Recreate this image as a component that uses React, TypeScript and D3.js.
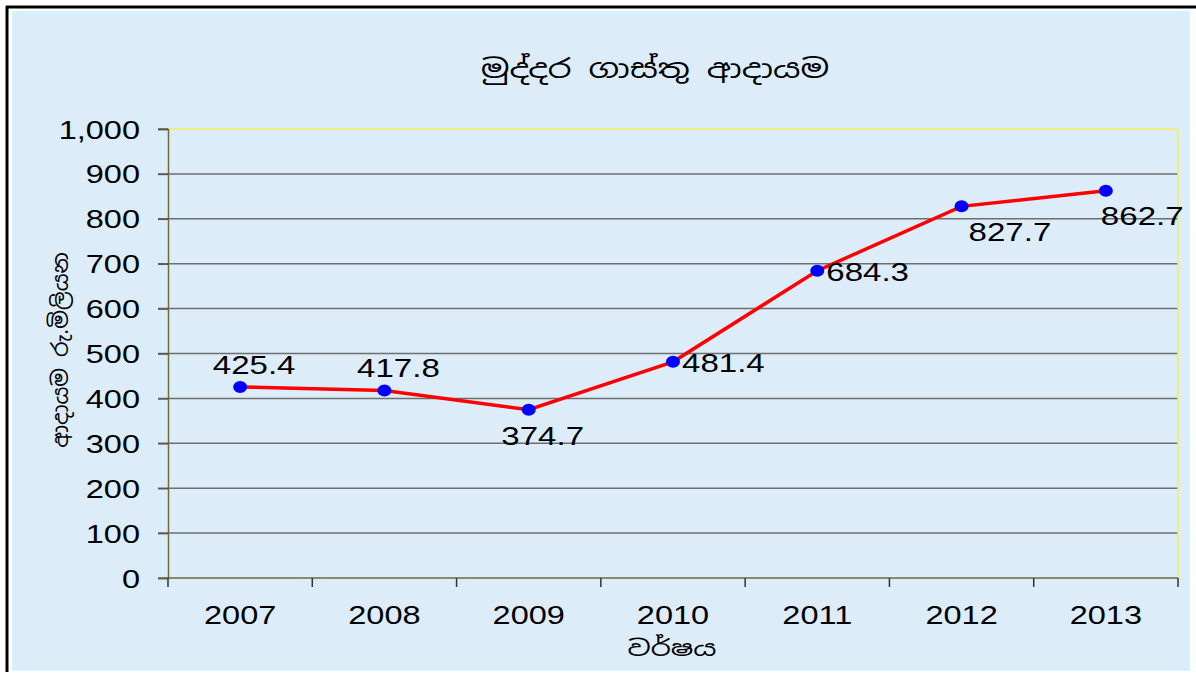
import React, { useEffect, useRef } from 'react'
import * as d3 from 'd3'

const years = ['2007', '2008', '2009', '2010', '2011', '2012', '2013']
const revenue = [425.4, 417.8, 374.7, 481.4, 684.3, 827.7, 862.7]
const yTicks = [0, 100, 200, 300, 400, 500, 600, 700, 800, 900, 1000]
// where each value label sits relative to its point
const labelPlace = ['above', 'above', 'below', 'right', 'right', 'belowRight', 'belowEdge']

const title = 'මුද්දර ගාස්තු ආදායම'
const yTitle = 'ආදායම රු.මිලියන'
const xTitle = 'වර්ෂය'

const W = 1196
const H = 675
const SX = 1.3 // the source picture is stretched sideways

const App: React.FC = () => {
  const ref = useRef<SVGSVGElement>(null)

  useEffect(() => {
    const svg = d3.select(ref.current)
    svg.selectAll('*').remove()

    const left = 168
    const right = 1178
    const top = 129
    const bottom = 578
    const font = 'Liberation Sans, Arial, sans-serif'
    const sinhala = 'Iskoola Pota, Noto Sans Sinhala, sans-serif'

    /* frame + background */
    svg.append('rect').attr('x', 0).attr('y', 0).attr('width', W).attr('height', H).attr('fill', '#fff')
    svg
      .append('rect')
      .attr('x', 13)
      .attr('y', 12)
      .attr('width', 1176)
      .attr('height', 658)
      .attr('fill', '#dcecf9')
      .attr('stroke', '#c8f4fa')
      .attr('stroke-width', 1.5)
    svg.append('line').attr('x1', 7).attr('x2', 7).attr('y1', 6).attr('y2', 672).attr('stroke', '#000').attr('stroke-width', 3)
    svg.append('line').attr('x1', 6).attr('x2', W).attr('y1', 7).attr('y2', 7).attr('stroke', '#000').attr('stroke-width', 3)

    /* Scales */
    const x = d3.scaleBand().domain(years).range([left, right]).padding(0)
    const y = d3.scaleLinear().domain([0, 1000]).range([bottom, top])
    const cx = (d: string) => (x(d) as number) + x.bandwidth() / 2

    /* grid */
    svg
      .append('g')
      .selectAll('line')
      .data(yTicks.filter((t) => t > 0 && t < 1000))
      .enter()
      .append('line')
      .attr('x1', left - 10)
      .attr('x2', right)
      .attr('y1', (d) => y(d))
      .attr('y2', (d) => y(d))
      .attr('stroke', '#6e6e6e')
      .attr('stroke-width', 1.5)

    // plot border top/right (yellow)
    svg.append('line').attr('x1', left).attr('x2', right).attr('y1', y(1000)).attr('y2', y(1000)).attr('stroke', '#f2ee5a').attr('stroke-width', 1.5)
    svg.append('line').attr('x1', left - 10).attr('x2', left).attr('y1', y(1000)).attr('y2', y(1000)).attr('stroke', '#6e6e6e').attr('stroke-width', 1.5)
    svg.append('line').attr('x1', right).attr('x2', right).attr('y1', top).attr('y2', bottom).attr('stroke', '#f2ee5a').attr('stroke-width', 1.5)

    /* axes */
    const yAxis = d3
      .axisLeft(y)
      .tickValues(yTicks)
      .tickSize(10)
      .tickFormat((d: any) => d3.format(',')(d))
    const gy = svg.append('g').attr('transform', `translate(${left},0)`).call(yAxis)
    gy.select('.domain').attr('stroke', '#6b6b3a').attr('stroke-width', 1.5)
    gy.selectAll('.tick line').attr('stroke', '#555').attr('stroke-width', 1.5)
    gy.selectAll('.tick text')
      .attr('x', 0)
      .attr('transform', `translate(-28,0) scale(${SX},1)`)
      .attr('dy', '0.36em')
      .attr('fill', '#000')
      .style('font-family', font)
      .style('font-size', '25px')

    const gx = svg.append('g').attr('transform', `translate(0,${bottom})`)
    gx.append('line').attr('x1', left - 10).attr('x2', right).attr('y1', 0).attr('y2', 0).attr('stroke', '#6b6b3a').attr('stroke-width', 1.5)
    gx.selectAll('line.tk')
      .data(years.concat(['end']))
      .enter()
      .append('line')
      .attr('class', 'tk')
      .attr('x1', (d, i) => left + i * x.bandwidth())
      .attr('x2', (d, i) => left + i * x.bandwidth())
      .attr('y1', 0)
      .attr('y2', 9)
      .attr('stroke', '#333')
      .attr('stroke-width', 1.5)
    gx.selectAll('text')
      .data(years)
      .enter()
      .append('text')
      .attr('transform', (d) => `translate(${cx(d)},46) scale(${SX},1)`)
      .attr('text-anchor', 'middle')
      .style('font-family', font)
      .style('font-size', '25px')
      .text((d) => d)

    /* titles */
    svg
      .append('text')
      .attr('transform', `translate(655,78) scale(${SX},1)`)
      .attr('text-anchor', 'middle')
      .style('font-family', sinhala)
      .style('font-size', '26px')
      .text(title)
    svg
      .append('text')
      .attr('transform', `translate(68,350) rotate(-90)`)
      .attr('text-anchor', 'middle')
      .style('font-family', sinhala)
      .style('font-size', '22px')
      .text(yTitle)
    svg
      .append('text')
      .attr('transform', `translate(672,656) scale(${SX},1)`)
      .attr('text-anchor', 'middle')
      .style('font-family', sinhala)
      .style('font-size', '22px')
      .text(xTitle)

    /* line */
    const line = d3
      .line<number>()
      .x((d, i) => cx(years[i]))
      .y((d) => y(d))
    svg.append('path').attr('d', line(revenue)).attr('fill', 'none').attr('stroke', '#ff0000').attr('stroke-width', 3.5)

    svg
      .append('g')
      .selectAll('ellipse')
      .data(revenue)
      .enter()
      .append('ellipse')
      .attr('cx', (d, i) => cx(years[i]))
      .attr('cy', (d) => y(d))
      .attr('rx', 7)
      .attr('ry', 6)
      .attr('fill', '#0000ff')

    /* value labels */
    svg
      .append('g')
      .selectAll('text')
      .data(revenue)
      .enter()
      .append('text')
      .attr('transform', (d, i) => {
        const p = labelPlace[i]
        const c = cx(years[i])
        const v = y(d)
        let tx = c + 14
        let ty = v + 35
        if (p === 'above') ty = v - 13
        if (p === 'right') {
          tx = c + 9
          ty = v + 10
        }
        if (p === 'belowRight') tx = c + 7
        if (p === 'belowEdge') {
          tx = c - 5
          ty = v + 34
        }
        return `translate(${tx},${ty}) scale(${SX * 0.96},1)`
      })
      .attr('text-anchor', (d, i) => (labelPlace[i] === 'above' || labelPlace[i] === 'below' ? 'middle' : 'start'))
      .style('font-family', font)
      .style('font-size', '26.5px')
      .text((d) => d3.format('.1f')(d))
  }, [])

  return (
    <svg ref={ref} width={W} height={H} style={{ display: 'block', position: 'absolute', left: 0, top: 0 }} />
  )
}

export default App
